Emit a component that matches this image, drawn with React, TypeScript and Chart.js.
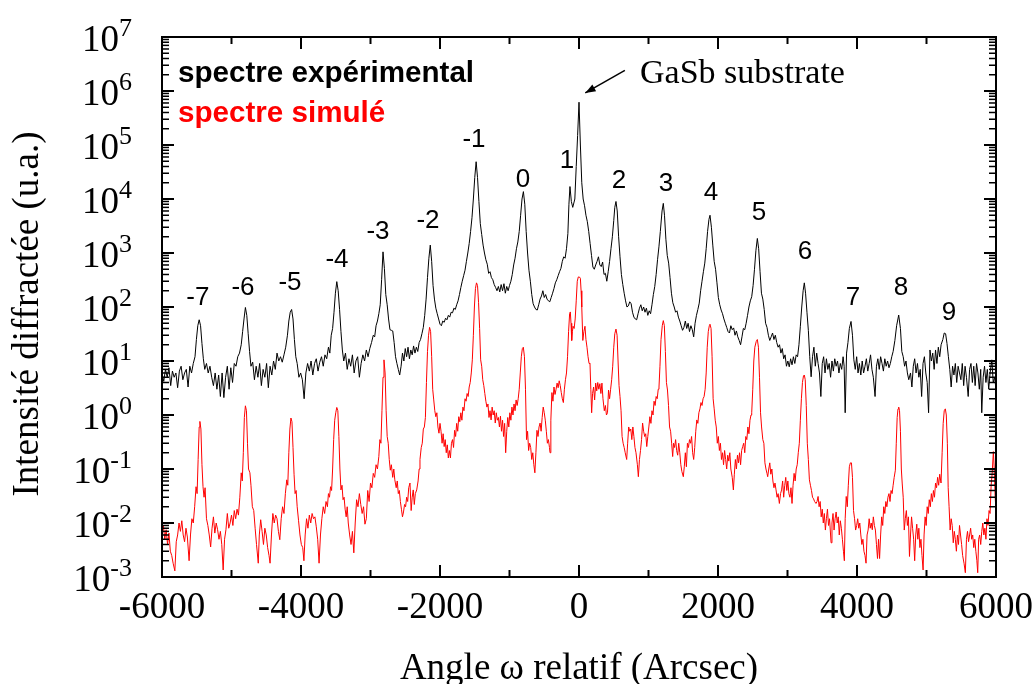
import { useEffect, useRef } from "react";
import { Chart, registerables } from "chart.js";

Chart.register(...registerables);

// Angle ω relatif (arcsec), intensité (u.a.)
const experimentalSpectrum: [number, number][] = [
  [-6000, 6], [-5975, 4.2], [-5950, 7], [-5925, 5], [-5900, 7.5], [-5875, 3.5], [-5850, 6.5], [-5825, 5], [-5800, 6], [-5775, 3.2],
  [-5750, 6.5], [-5725, 8], [-5700, 4.5], [-5675, 6], [-5650, 7], [-5625, 3.3], [-5600, 8], [-5575, 6], [-5550, 9], [-5525, 12],
  [-5505, 25], [-5485, 45], [-5465, 58], [-5445, 45], [-5425, 21], [-5405, 11], [-5385, 7], [-5360, 9], [-5335, 6], [-5310, 8],
  [-5285, 5], [-5260, 3.5], [-5235, 6], [-5210, 3], [-5185, 5.5], [-5160, 2.2], [-5135, 6], [-5110, 2.1], [-5085, 5], [-5060, 8],
  [-5035, 3], [-5010, 7.5], [-4985, 4], [-4960, 9], [-4935, 8], [-4910, 12], [-4885, 14], [-4860, 20], [-4840, 35], [-4820, 60],
  [-4800, 98], [-4780, 70], [-4760, 32], [-4740, 15], [-4720, 8], [-4695, 9.5], [-4670, 4.5], [-4645, 8], [-4620, 5], [-4595, 9],
  [-4570, 3.5], [-4545, 7], [-4520, 5], [-4495, 9], [-4470, 3.2], [-4445, 8], [-4420, 5.5], [-4395, 10], [-4370, 7], [-4345, 14],
  [-4320, 10], [-4295, 12], [-4270, 9.5], [-4245, 13], [-4220, 18], [-4195, 30], [-4175, 55], [-4155, 80], [-4135, 90], [-4115, 60],
  [-4095, 25], [-4075, 12], [-4055, 9], [-4030, 5], [-4005, 6], [-3980, 4.5], [-3955, 2], [-3930, 6], [-3905, 9], [-3880, 6.5],
  [-3855, 10], [-3830, 5.5], [-3805, 9], [-3780, 11], [-3755, 6.5], [-3730, 9.5], [-3705, 12], [-3680, 8], [-3655, 13], [-3630, 11],
  [-3605, 18], [-3585, 14], [-3565, 30], [-3545, 40], [-3525, 80], [-3505, 180], [-3485, 295], [-3465, 200], [-3445, 90], [-3425, 35],
  [-3405, 16], [-3385, 10], [-3360, 14], [-3335, 7], [-3310, 11], [-3285, 8], [-3260, 13], [-3235, 6], [-3210, 10], [-3185, 12],
  [-3160, 5], [-3135, 9], [-3110, 13], [-3085, 10], [-3060, 16], [-3035, 12], [-3010, 17], [-2985, 22], [-2960, 30], [-2940, 28],
  [-2920, 45], [-2900, 55], [-2880, 75], [-2860, 110], [-2840, 320], [-2820, 1050], [-2800, 520], [-2780, 170], [-2760, 110], [-2740, 60],
  [-2720, 38], [-2700, 37], [-2680, 36], [-2660, 22], [-2640, 12], [-2620, 9], [-2600, 7], [-2580, 5.5], [-2560, 8], [-2540, 14],
  [-2520, 10], [-2500, 17], [-2480, 12], [-2460, 18], [-2440, 11], [-2420, 16], [-2400, 13], [-2380, 19], [-2360, 14], [-2340, 18],
  [-2320, 15], [-2300, 22], [-2280, 25], [-2260, 32], [-2240, 42], [-2220, 70], [-2200, 140], [-2180, 350], [-2160, 800], [-2140, 1400],
  [-2120, 700], [-2100, 250], [-2080, 140], [-2060, 95], [-2040, 75], [-2020, 60], [-2000, 48], [-1980, 45], [-1960, 55], [-1940, 52],
  [-1920, 62], [-1900, 58], [-1880, 70], [-1860, 65], [-1840, 80], [-1820, 78], [-1800, 95], [-1780, 90], [-1760, 110], [-1740, 130],
  [-1720, 170], [-1700, 230], [-1680, 300], [-1660, 380], [-1640, 480], [-1620, 700], [-1600, 1000], [-1580, 1500], [-1560, 2500], [-1540, 4500],
  [-1520, 10000], [-1500, 25000], [-1480, 49000], [-1460, 25000], [-1440, 9000], [-1420, 3500], [-1400, 2200], [-1380, 1400], [-1360, 1000], [-1340, 750],
  [-1320, 620], [-1300, 420], [-1280, 450], [-1260, 350], [-1240, 320], [-1220, 260], [-1200, 230], [-1180, 200], [-1160, 240], [-1140, 190],
  [-1120, 260], [-1100, 200], [-1080, 270], [-1060, 180], [-1040, 240], [-1020, 200], [-1000, 250], [-980, 300], [-960, 400], [-940, 600],
  [-920, 800], [-900, 1200], [-880, 1600], [-860, 2500], [-840, 5000], [-820, 10000], [-800, 13700], [-780, 8000], [-760, 2500], [-740, 1000],
  [-720, 480], [-700, 300], [-680, 170], [-660, 115], [-640, 100], [-620, 90], [-600, 88], [-580, 110], [-560, 140], [-540, 160],
  [-520, 200], [-500, 150], [-480, 170], [-460, 140], [-440, 130], [-420, 125], [-400, 150], [-380, 180], [-360, 220], [-340, 280],
  [-320, 320], [-300, 380], [-280, 450], [-260, 520], [-240, 700], [-220, 850], [-200, 800], [-180, 1200], [-160, 2300], [-145, 8000],
  [-130, 17000], [-110, 9000], [-90, 7000], [-60, 10000], [-40, 40000], [-20, 150000], [0, 620000], [20, 100000], [40, 20000], [60, 10000],
  [80, 7500], [100, 5000], [120, 3800], [140, 2500], [160, 1500], [180, 900], [200, 550], [220, 500], [240, 600], [260, 700],
  [280, 850], [300, 600], [320, 560], [340, 680], [360, 400], [380, 420], [400, 300], [420, 450], [440, 700], [460, 1200],
  [480, 2000], [500, 4000], [515, 7000], [532, 9000], [550, 6000], [570, 2000], [590, 850], [610, 400], [630, 260], [650, 180],
  [670, 130], [690, 100], [710, 105], [730, 125], [750, 115], [770, 80], [790, 65], [810, 60], [830, 58], [850, 75],
  [870, 95], [890, 110], [910, 85], [930, 100], [950, 80], [970, 95], [990, 70], [1010, 85], [1030, 75], [1050, 110],
  [1070, 170], [1090, 240], [1110, 400], [1130, 750], [1150, 1300], [1170, 2500], [1195, 6000], [1213, 8300], [1230, 5000], [1250, 1800],
  [1270, 900], [1290, 650], [1310, 350], [1330, 180], [1350, 120], [1370, 100], [1390, 80], [1410, 85], [1430, 65], [1450, 55],
  [1470, 45], [1490, 37], [1510, 42], [1530, 55], [1550, 40], [1570, 50], [1590, 35], [1610, 45], [1630, 38], [1650, 28],
  [1670, 50], [1690, 70], [1710, 90], [1730, 118], [1750, 200], [1770, 300], [1790, 450], [1810, 650], [1830, 1200], [1850, 2500],
  [1870, 4200], [1885, 5000], [1905, 3000], [1925, 1400], [1945, 700], [1965, 500], [1985, 280], [2005, 150], [2025, 110], [2045, 88],
  [2065, 75], [2085, 60], [2105, 50], [2125, 42], [2145, 35], [2165, 33], [2185, 45], [2205, 38], [2225, 41], [2245, 30],
  [2265, 36], [2285, 28], [2305, 24], [2325, 20], [2345, 28], [2365, 40], [2385, 38], [2405, 50], [2425, 70], [2445, 100],
  [2465, 130], [2485, 155], [2505, 250], [2525, 500], [2545, 1100], [2566, 1860], [2585, 1200], [2605, 450], [2625, 180], [2645, 140],
  [2665, 90], [2685, 50], [2705, 42], [2725, 30], [2745, 24], [2765, 28], [2785, 33], [2805, 25], [2825, 30], [2845, 22],
  [2865, 18], [2885, 20], [2905, 14], [2925, 17], [2945, 11], [2965, 13], [2985, 8], [3005, 10], [3025, 7.8], [3045, 11],
  [3065, 8.5], [3085, 12], [3105, 9], [3125, 13], [3145, 12], [3165, 20], [3185, 44], [3205, 100], [3225, 200], [3242, 280],
  [3260, 180], [3280, 80], [3300, 37], [3320, 12], [3340, 5.1], [3360, 12], [3380, 18], [3400, 8], [3420, 14], [3440, 9],
  [3460, 6], [3480, 2.2], [3500, 9], [3520, 12], [3540, 6], [3560, 11], [3580, 7], [3600, 9], [3620, 5], [3640, 10],
  [3660, 6.5], [3680, 11], [3700, 8], [3720, 10], [3740, 6], [3760, 9], [3780, 7], [3800, 12], [3815, 8], [3830, 1.1],
  [3850, 14], [3870, 22], [3890, 40], [3914, 54], [3935, 30], [3955, 10.5], [3975, 7], [3995, 12], [4015, 6], [4035, 9],
  [4055, 5.5], [4075, 10], [4095, 6], [4115, 8], [4135, 11], [4155, 6.5], [4175, 9], [4195, 13], [4215, 7], [4235, 5],
  [4260, 2.2], [4280, 8], [4300, 11], [4320, 7], [4340, 12], [4360, 9], [4380, 6.5], [4400, 11], [4420, 8], [4440, 10],
  [4460, 7.5], [4480, 9], [4500, 12], [4520, 15], [4545, 24], [4570, 45], [4600, 71], [4625, 40], [4645, 15], [4665, 12],
  [4685, 8], [4705, 10], [4725, 6], [4745, 4.5], [4770, 6], [4790, 3.3], [4810, 8], [4830, 11], [4850, 6], [4870, 9],
  [4890, 5], [4910, 7], [4930, 2.2], [4950, 9], [4970, 12], [4990, 6], [5010, 4], [5030, 1.1], [5050, 16], [5070, 10],
  [5090, 14], [5110, 7], [5130, 16], [5150, 9], [5170, 18], [5190, 12], [5210, 20], [5235, 25], [5255, 33], [5275, 32],
  [5295, 21], [5315, 12], [5335, 7], [5355, 3.3], [5375, 8], [5395, 5.5], [5415, 9], [5435, 4], [5455, 8], [5475, 6],
  [5495, 4.5], [5515, 9], [5535, 3.5], [5555, 8], [5575, 5], [5600, 2.2], [5620, 7], [5640, 9], [5660, 4], [5680, 8],
  [5700, 3.5], [5720, 9], [5740, 6], [5760, 3], [5780, 7], [5795, 1.1], [5815, 5], [5835, 8], [5855, 4], [5875, 7],
  [5895, 3], [5915, 6], [5940, 10.5], [5960, 4], [5980, 5], [6000, 3],
];

const simulatedSpectrum: [number, number][] = [
  [-6000, 0.0056], [-5980, 0.009], [-5960, 0.005], [-5940, 0.0075], [-5920, 0.004], [-5900, 0.0065], [-5880, 0.003], [-5860, 0.0025], [-5840, 0.0018], [-5815, 0.0013],
  [-5795, 0.0045], [-5775, 0.006], [-5755, 0.01], [-5735, 0.007], [-5715, 0.011], [-5695, 0.006], [-5675, 0.0045], [-5655, 0.008], [-5635, 0.0055], [-5610, 0.002],
  [-5590, 0.006], [-5570, 0.012], [-5550, 0.01], [-5530, 0.02], [-5510, 0.047], [-5495, 0.035], [-5480, 0.15], [-5465, 0.6], [-5455, 0.76], [-5440, 0.55],
  [-5425, 0.12], [-5410, 0.047], [-5395, 0.03], [-5380, 0.045], [-5360, 0.012], [-5340, 0.009], [-5320, 0.006], [-5300, 0.0036], [-5280, 0.008], [-5260, 0.013],
  [-5240, 0.0065], [-5220, 0.01], [-5200, 0.0075], [-5180, 0.005], [-5160, 0.007], [-5140, 0.004], [-5120, 0.00135], [-5100, 0.005], [-5080, 0.0075], [-5060, 0.015],
  [-5040, 0.008], [-5020, 0.01], [-5000, 0.014], [-4980, 0.009], [-4960, 0.017], [-4940, 0.012], [-4920, 0.018], [-4900, 0.014], [-4880, 0.03], [-4860, 0.085],
  [-4845, 0.06], [-4830, 0.2], [-4815, 0.9], [-4800, 1.48], [-4785, 1.2], [-4770, 0.3], [-4755, 0.1], [-4735, 0.085], [-4720, 0.05], [-4700, 0.02],
  [-4680, 0.017], [-4660, 0.008], [-4640, 0.004], [-4615, 0.0018], [-4600, 0.006], [-4580, 0.0115], [-4560, 0.007], [-4540, 0.004], [-4520, 0.008], [-4500, 0.006],
  [-4480, 0.0035], [-4460, 0.0025], [-4445, 0.0018], [-4425, 0.006], [-4405, 0.015], [-4385, 0.01], [-4365, 0.014], [-4345, 0.012], [-4325, 0.007], [-4305, 0.0049],
  [-4285, 0.012], [-4265, 0.02], [-4245, 0.015], [-4225, 0.035], [-4205, 0.063], [-4190, 0.05], [-4175, 0.2], [-4160, 0.55], [-4145, 0.88], [-4130, 0.75],
  [-4115, 0.25], [-4100, 0.08], [-4085, 0.035], [-4070, 0.04], [-4055, 0.02], [-4035, 0.011], [-4015, 0.006], [-3995, 0.004], [-3975, 0.0035], [-3958, 0.002],
  [-3940, 0.006], [-3920, 0.012], [-3900, 0.008], [-3880, 0.014], [-3860, 0.01], [-3840, 0.015], [-3820, 0.012], [-3800, 0.013], [-3780, 0.0085], [-3760, 0.005],
  [-3740, 0.0018], [-3720, 0.006], [-3700, 0.012], [-3680, 0.02], [-3660, 0.015], [-3640, 0.025], [-3620, 0.02], [-3605, 0.035], [-3590, 0.03], [-3575, 0.047],
  [-3560, 0.04], [-3545, 0.1], [-3530, 0.35], [-3515, 0.8], [-3500, 1.1], [-3485, 1.38], [-3470, 1.2], [-3455, 0.4], [-3440, 0.1], [-3425, 0.041],
  [-3410, 0.05], [-3395, 0.027], [-3380, 0.03], [-3365, 0.018], [-3350, 0.013], [-3335, 0.02], [-3320, 0.01], [-3300, 0.006], [-3280, 0.004], [-3260, 0.007],
  [-3240, 0.0028], [-3220, 0.01], [-3200, 0.027], [-3180, 0.02], [-3160, 0.035], [-3140, 0.022], [-3120, 0.015], [-3100, 0.02], [-3080, 0.0095], [-3060, 0.012],
  [-3040, 0.04], [-3020, 0.025], [-3000, 0.055], [-2980, 0.045], [-2960, 0.083], [-2940, 0.07], [-2920, 0.12], [-2900, 0.1], [-2880, 0.17], [-2865, 0.35],
  [-2850, 0.3], [-2835, 1.2], [-2820, 5], [-2806, 10.5], [-2790, 6], [-2775, 1.2], [-2760, 0.4], [-2745, 0.3], [-2730, 0.15], [-2715, 0.095],
  [-2700, 0.12], [-2680, 0.07], [-2665, 0.1], [-2650, 0.063], [-2630, 0.045], [-2615, 0.06], [-2600, 0.035], [-2585, 0.04], [-2570, 0.025], [-2555, 0.018],
  [-2540, 0.013], [-2525, 0.016], [-2510, 0.022], [-2495, 0.02], [-2480, 0.03], [-2465, 0.025], [-2450, 0.045], [-2432, 0.055], [-2415, 0.017], [-2400, 0.03],
  [-2385, 0.041], [-2370, 0.022], [-2355, 0.035], [-2335, 0.041], [-2315, 0.06], [-2300, 0.1], [-2288, 0.15], [-2270, 0.25], [-2255, 0.3], [-2240, 0.55],
  [-2225, 0.6], [-2210, 0.9], [-2195, 4], [-2180, 15], [-2165, 30], [-2150, 42], [-2135, 35], [-2120, 12], [-2105, 3], [-2090, 1.9],
  [-2075, 1.2], [-2060, 0.93], [-2045, 1.1], [-2030, 0.6], [-2015, 0.46], [-2000, 0.7], [-1985, 0.5], [-1970, 0.3], [-1955, 0.45], [-1940, 0.26],
  [-1925, 0.35], [-1910, 0.2], [-1895, 0.28], [-1880, 0.16], [-1865, 0.22], [-1850, 0.16], [-1835, 0.3], [-1820, 0.35], [-1805, 0.25], [-1790, 0.52],
  [-1775, 0.4], [-1760, 0.7], [-1745, 0.5], [-1730, 0.93], [-1715, 0.75], [-1700, 1.1], [-1685, 0.8], [-1670, 1.4], [-1655, 1.2], [-1640, 2],
  [-1625, 1.8], [-1610, 2.5], [-1595, 2.2], [-1580, 3.3], [-1565, 4], [-1550, 6], [-1535, 10.5], [-1520, 30], [-1505, 100], [-1490, 220],
  [-1475, 280], [-1460, 250], [-1445, 120], [-1430, 40], [-1415, 10.5], [-1400, 8], [-1385, 4.5], [-1370, 3.5], [-1355, 2.5], [-1340, 1.8],
  [-1325, 1.4], [-1310, 1.6], [-1295, 0.9], [-1280, 1.2], [-1265, 0.81], [-1250, 1.4], [-1235, 1], [-1220, 1.2], [-1205, 0.71], [-1190, 1.1],
  [-1175, 0.8], [-1160, 0.9], [-1145, 0.6], [-1130, 0.95], [-1115, 0.5], [-1100, 0.8], [-1085, 0.4], [-1070, 0.7], [-1055, 0.2], [-1040, 0.5],
  [-1025, 0.9], [-1010, 0.6], [-995, 1.1], [-980, 0.8], [-965, 1.4], [-950, 1], [-935, 1.6], [-920, 1.2], [-905, 1.9], [-890, 1.5],
  [-875, 2], [-860, 3], [-845, 6], [-830, 12], [-815, 17], [-801, 18], [-785, 12], [-770, 3], [-755, 0.35], [-740, 0.5],
  [-725, 0.22], [-710, 0.3], [-695, 0.25], [-680, 0.15], [-665, 0.2], [-650, 0.12], [-635, 0.085], [-620, 0.2], [-605, 0.52], [-590, 0.4],
  [-575, 0.6], [-560, 0.71], [-545, 0.5], [-530, 0.9], [-515, 1.4], [-500, 1.1], [-485, 0.8], [-470, 0.5], [-455, 0.3], [-440, 0.35],
  [-425, 0.25], [-417, 0.2], [-405, 0.8], [-390, 2.6], [-375, 1.8], [-360, 3.3], [-345, 2.4], [-330, 3], [-315, 3.9], [-300, 3.2],
  [-285, 4.3], [-270, 3.5], [-255, 2.6], [-240, 2], [-225, 1.7], [-210, 3], [-195, 4.5], [-180, 6], [-165, 12], [-150, 35],
  [-135, 75], [-125, 81], [-115, 50], [-105, 24], [-95, 35], [-85, 44], [-70, 40], [-55, 60], [-40, 130], [-25, 300],
  [-10, 360], [5, 360], [20, 340], [30, 200], [40, 100], [55, 24], [70, 35], [86, 44], [100, 25], [115, 18],
  [130, 12], [145, 9], [158, 9.1], [170, 3], [182, 1.1], [195, 2.5], [210, 3.3], [225, 1.9], [240, 3.9], [255, 2.8],
  [270, 4], [285, 3], [300, 3.8], [315, 2.5], [330, 3.9], [345, 2], [364, 1.2], [380, 1.5], [395, 1], [410, 1.1],
  [425, 2.9], [440, 2], [455, 3], [470, 4.5], [485, 8], [500, 18], [515, 32], [532, 39], [548, 30], [562, 10],
  [576, 3.5], [590, 2.2], [605, 1.2], [620, 0.4], [635, 0.3], [650, 0.25], [665, 0.2], [686, 0.15], [700, 0.3], [715, 0.6],
  [730, 0.5], [745, 0.55], [760, 0.35], [775, 0.6], [790, 0.4], [805, 0.25], [820, 0.2], [840, 0.12], [854, 0.072], [870, 0.15],
  [885, 0.22], [900, 0.35], [915, 0.71], [930, 0.5], [945, 0.4], [960, 0.45], [975, 0.26], [990, 0.4], [1005, 0.6], [1020, 0.93],
  [1035, 0.7], [1050, 1.2], [1065, 1], [1080, 1.8], [1095, 1.5], [1110, 2.2], [1125, 2], [1140, 3], [1151, 3.3], [1165, 8],
  [1180, 25], [1198, 45], [1213, 56], [1228, 45], [1243, 15], [1258, 4], [1273, 2.9], [1288, 1.5], [1303, 0.6], [1318, 0.5],
  [1333, 0.3], [1348, 0.17], [1360, 0.3], [1375, 0.25], [1390, 0.35], [1405, 0.22], [1420, 0.18], [1435, 0.3], [1450, 0.2], [1465, 0.12],
  [1480, 0.09], [1501, 0.072], [1515, 0.11], [1530, 0.2], [1545, 0.11], [1560, 0.3], [1575, 0.25], [1590, 0.35], [1605, 0.3], [1620, 0.4],
  [1635, 0.2], [1650, 0.15], [1665, 0.25], [1680, 0.5], [1695, 0.81], [1710, 0.7], [1725, 1.1], [1740, 1.3], [1755, 1.7], [1770, 1.5],
  [1785, 2], [1800, 2.2], [1815, 3], [1830, 6], [1845, 18], [1860, 35], [1875, 45], [1885, 48], [1900, 40], [1915, 12],
  [1930, 2], [1945, 1.3], [1960, 0.8], [1975, 0.6], [1990, 0.3], [2005, 0.4], [2020, 0.22], [2035, 0.3], [2050, 0.15], [2065, 0.2],
  [2080, 0.12], [2095, 0.22], [2110, 0.15], [2125, 0.1], [2140, 0.18], [2155, 0.14], [2170, 0.2], [2185, 0.1], [2205, 0.07], [2221, 0.041],
  [2235, 0.08], [2250, 0.15], [2265, 0.1], [2280, 0.18], [2295, 0.13], [2310, 0.2], [2325, 0.12], [2340, 0.22], [2355, 0.26], [2370, 0.3],
  [2385, 0.2], [2400, 0.4], [2415, 0.35], [2430, 0.6], [2445, 0.45], [2460, 0.8], [2475, 1], [2485, 1.1], [2500, 3], [2515, 10],
  [2530, 18], [2550, 23], [2566, 25], [2582, 18], [2597, 5], [2612, 1.1], [2627, 0.6], [2645, 0.35], [2660, 0.3], [2675, 0.13],
  [2690, 0.1], [2705, 0.083], [2715, 0.072], [2730, 0.1], [2745, 0.13], [2760, 0.08], [2775, 0.1], [2790, 0.06], [2805, 0.045], [2820, 0.055],
  [2835, 0.041], [2850, 0.03], [2865, 0.035], [2883, 0.023], [2900, 0.035], [2915, 0.041], [2930, 0.06], [2945, 0.03], [2960, 0.05], [2975, 0.07],
  [2990, 0.04], [3005, 0.06], [3020, 0.035], [3035, 0.03], [3050, 0.045], [3065, 0.023], [3080, 0.05], [3095, 0.083], [3110, 0.06], [3125, 0.1],
  [3140, 0.12], [3155, 0.2], [3170, 0.3], [3185, 0.8], [3200, 2], [3215, 4], [3230, 5.3], [3242, 5.5], [3255, 4.5], [3270, 1.5],
  [3285, 0.3], [3300, 0.15], [3315, 0.063], [3330, 0.05], [3345, 0.04], [3360, 0.03], [3375, 0.028], [3390, 0.025], [3410, 0.023], [3425, 0.025],
  [3440, 0.031], [3455, 0.02], [3470, 0.025], [3485, 0.013], [3500, 0.018], [3515, 0.01], [3530, 0.015], [3545, 0.0074], [3560, 0.012], [3575, 0.018],
  [3590, 0.009], [3605, 0.012], [3627, 0.0043], [3640, 0.01], [3655, 0.015], [3670, 0.0074], [3685, 0.012], [3700, 0.016], [3715, 0.01], [3730, 0.013],
  [3745, 0.006], [3760, 0.011], [3775, 0.008], [3790, 0.005], [3805, 0.003], [3818, 0.002], [3830, 0.012], [3845, 0.031], [3860, 0.02], [3875, 0.05],
  [3890, 0.11], [3905, 0.13], [3920, 0.13], [3935, 0.07], [3950, 0.017], [3965, 0.012], [3980, 0.0074], [3995, 0.009], [4010, 0.012], [4025, 0.008],
  [4040, 0.01], [4055, 0.006], [4070, 0.004], [4085, 0.005], [4100, 0.003], [4115, 0.0025], [4130, 0.0018], [4145, 0.006], [4160, 0.0074], [4175, 0.012],
  [4190, 0.008], [4205, 0.01], [4220, 0.0075], [4235, 0.013], [4250, 0.009], [4265, 0.0074], [4280, 0.004], [4295, 0.0022], [4310, 0.005], [4325, 0.0022],
  [4340, 0.006], [4355, 0.013], [4370, 0.009], [4385, 0.02], [4400, 0.015], [4415, 0.025], [4430, 0.02], [4445, 0.03], [4460, 0.035], [4475, 0.025],
  [4490, 0.04], [4505, 0.035], [4520, 0.05], [4535, 0.07], [4552, 0.095], [4565, 0.3], [4578, 0.9], [4590, 1.3], [4600, 1.4], [4612, 1.2],
  [4625, 0.5], [4638, 0.1], [4650, 0.055], [4665, 0.03], [4680, 0.0074], [4695, 0.012], [4710, 0.017], [4725, 0.009], [4740, 0.013], [4755, 0.0024],
  [4770, 0.006], [4785, 0.013], [4800, 0.008], [4815, 0.005], [4830, 0.002], [4845, 0.006], [4860, 0.0095], [4875, 0.005], [4890, 0.008], [4905, 0.0035],
  [4920, 0.005], [4935, 0.0025], [4951, 0.00135], [4965, 0.006], [4980, 0.013], [4995, 0.009], [5010, 0.02], [5025, 0.015], [5040, 0.027], [5055, 0.02],
  [5070, 0.035], [5085, 0.025], [5100, 0.04], [5115, 0.03], [5130, 0.055], [5145, 0.045], [5160, 0.07], [5175, 0.05], [5190, 0.08], [5209, 0.055],
  [5225, 0.2], [5240, 0.7], [5255, 1.2], [5271, 1.3], [5285, 1.0], [5300, 0.3], [5312, 0.045], [5325, 0.02], [5340, 0.0074], [5355, 0.012],
  [5370, 0.009], [5385, 0.0043], [5400, 0.007], [5415, 0.005], [5430, 0.003], [5445, 0.006], [5460, 0.004], [5475, 0.009], [5490, 0.006], [5505, 0.004],
  [5520, 0.0025], [5540, 0.0018], [5559, 0.0012], [5575, 0.005], [5590, 0.007], [5605, 0.0045], [5620, 0.006], [5635, 0.008], [5650, 0.005], [5665, 0.006],
  [5680, 0.0035], [5695, 0.005], [5710, 0.003], [5725, 0.002], [5737, 0.0012], [5750, 0.005], [5765, 0.006], [5780, 0.004], [5795, 0.007], [5810, 0.01],
  [5825, 0.006], [5840, 0.008], [5855, 0.005], [5870, 0.012], [5885, 0.009], [5900, 0.017], [5915, 0.015], [5930, 0.05], [5945, 0.083], [5962, 0.21],
  [5975, 0.1], [5988, 0.03], [6000, 0.017],
];

const angleTicks = [-6000, -5000, -4000, -3000, -2000, -1000, 0, 1000, 2000, 3000, 4000, 5000, 6000];
const angleLabelTicks = [-6000, -4000, -2000, 0, 2000, 4000, 6000];
const intensityDecades = [-3, -2, -1, 0, 1, 2, 3, 4, 5, 6, 7];

const satelliteOrders = ["-7", "-6", "-5", "-4", "-3", "-2", "-1", "0", "1", "2", "3", "4", "5", "6", "7", "8", "9"];
const satelliteLabelAngle = [-5483, -4835, -4158, -3482, -2892, -2173, -1511, -806, -173, 576, 1252, 1899, 2590, 3252, 3943, 4633, 5324];
const satelliteLabelIntensity = [110, 166, 204, 550, 1820, 2880, 91000, 16600, 37000, 15800, 14100, 9500, 4100, 780, 110, 166, 58];

const seriesNames = ["spectre expérimental", "spectre simulé"];
const seriesColors = ["#000000", "#ff0000"];
const substrateText = "GaSb substrate";
const xTitle = "Angle ω relatif (Arcsec)";
const yTitle = "Intensité diffractée (u.a.)";

const SERIF = '"Liberation Serif", "Times New Roman", serif';
const SANS = '"Liberation Sans", Arial, sans-serif';

const axesPlugin = {
  id: "xrdAxes",
  afterDatasetsDraw(chart: any) {
    const { ctx, chartArea: a, scales } = chart;
    const xs = scales.x;
    const ys = scales.y;
    ctx.save();
    ctx.strokeStyle = "#000";
    ctx.fillStyle = "#000";
    const seg = (x1: number, y1: number, x2: number, y2: number, w: number) => {
      ctx.lineWidth = w;
      ctx.beginPath();
      ctx.moveTo(x1, y1);
      ctx.lineTo(x2, y2);
      ctx.stroke();
    };
    // frame
    ctx.lineWidth = 2;
    ctx.strokeRect(a.left, a.top, a.right - a.left, a.bottom - a.top);

    // x ticks (inward, top and bottom)
    for (const v of angleTicks) {
      const px = xs.getPixelForValue(v);
      const major = angleLabelTicks.includes(v);
      const len = major ? 12 : 7;
      seg(px, a.bottom, px, a.bottom - len, 2);
      seg(px, a.top, px, a.top + len, 2);
    }
    // y ticks (inward, left and right)
    for (const d of intensityDecades) {
      for (let m = 1; m <= 9; m++) {
        if (d === 7 && m > 1) break;
        const py = ys.getPixelForValue(m * Math.pow(10, d));
        const major = m === 1;
        const len = major ? 12 : 7;
        const w = major ? 2 : 1.5;
        seg(a.left, py, a.left + len, py, w);
        seg(a.right, py, a.right - len, py, w);
      }
    }

    // x tick labels
    ctx.font = `37px ${SERIF}`;
    ctx.textAlign = "center";
    ctx.textBaseline = "alphabetic";
    for (const v of angleLabelTicks) {
      ctx.fillText(String(v), xs.getPixelForValue(v), a.bottom + 41);
    }

    // y tick labels 10^n
    const labelRight = a.left - 30;
    for (const d of intensityDecades) {
      const py = ys.getPixelForValue(Math.pow(10, d));
      const exp = String(d);
      ctx.font = `26px ${SERIF}`;
      const ew = ctx.measureText(exp).width;
      ctx.font = `37px ${SERIF}`;
      const bw = ctx.measureText("10").width;
      ctx.textAlign = "left";
      ctx.fillText("10", labelRight - ew - bw, py + 13.5);
      ctx.font = `26px ${SERIF}`;
      ctx.fillText(exp, labelRight - ew, py - 1.5);
    }

    // axis titles
    ctx.font = `37px ${SERIF}`;
    ctx.textAlign = "center";
    ctx.fillText(xTitle, (a.left + a.right) / 2, a.bottom + 102);
    ctx.save();
    ctx.translate(a.left - 124, (a.top + a.bottom) / 2 + 7);
    ctx.rotate(-Math.PI / 2);
    ctx.fillText(yTitle, 0, 0);
    ctx.restore();

    // legend texts
    ctx.font = `bold 29.6px ${SANS}`;
    ctx.textAlign = "left";
    ctx.fillStyle = seriesColors[0];
    ctx.fillText(seriesNames[0], a.left + 16, a.top + 45);
    ctx.fillStyle = seriesColors[1];
    ctx.fillText(seriesNames[1], a.left + 16, a.top + 85);

    // satellite order labels
    ctx.fillStyle = "#000";
    ctx.font = `26px ${SANS}`;
    ctx.textAlign = "center";
    satelliteOrders.forEach((t, i) => {
      ctx.fillText(t, xs.getPixelForValue(satelliteLabelAngle[i]), ys.getPixelForValue(satelliteLabelIntensity[i]));
    });

    // substrate annotation
    ctx.font = `34px ${SERIF}`;
    ctx.textAlign = "left";
    const tx = xs.getPixelForValue(878);
    const ty = ys.getPixelForValue(1.4e6);
    ctx.fillText(substrateText, tx, ty);
    const ax1 = xs.getPixelForValue(660);
    const ay1 = ys.getPixelForValue(2.4e6);
    const ax2 = xs.getPixelForValue(90);
    const ay2 = ys.getPixelForValue(9.2e5);
    seg(ax1, ay1, ax2, ay2, 1.5);
    const ang = Math.atan2(ay2 - ay1, ax2 - ax1);
    const hl = 11;
    ctx.beginPath();
    ctx.moveTo(ax2, ay2);
    ctx.lineTo(ax2 - hl * Math.cos(ang - 0.35), ay2 - hl * Math.sin(ang - 0.35));
    ctx.lineTo(ax2 - hl * Math.cos(ang + 0.35), ay2 - hl * Math.sin(ang + 0.35));
    ctx.closePath();
    ctx.fill();

    ctx.restore();
  },
};

export default function App() {
  const canvasRef = useRef<HTMLCanvasElement | null>(null);

  useEffect(() => {
    document.body.style.margin = "0";
    const canvas = canvasRef.current;
    if (!canvas) return;
    const chart = new Chart(canvas, {
      type: "line",
      data: {
        datasets: [
          {
            label: seriesNames[0],
            data: experimentalSpectrum.map(([x, y]) => ({ x, y })),
            borderColor: seriesColors[0],
            borderWidth: 1,
            pointRadius: 0,
            tension: 0,
            fill: false,
          },
          {
            label: seriesNames[1],
            data: simulatedSpectrum.map(([x, y]) => ({ x, y })),
            borderColor: seriesColors[1],
            borderWidth: 1,
            pointRadius: 0,
            tension: 0,
            fill: false,
          },
        ],
      },
      options: {
        animation: false,
        responsive: true,
        maintainAspectRatio: false,
        layout: { padding: { left: 162, top: 37, right: 40, bottom: 107 } },
        plugins: { legend: { display: false }, tooltip: { enabled: false }, title: { display: false } },
        scales: {
          x: { type: "linear", min: -6000, max: 6000, display: false },
          y: { type: "logarithmic", min: 1e-3, max: 1e7, display: false },
        },
        events: [],
      },
      plugins: [axesPlugin],
    });
    return () => chart.destroy();
  }, []);

  return (
    <div style={{ position: "relative", width: 1036, height: 684, background: "#fff" }}>
      <canvas ref={canvasRef} />
    </div>
  );
}
